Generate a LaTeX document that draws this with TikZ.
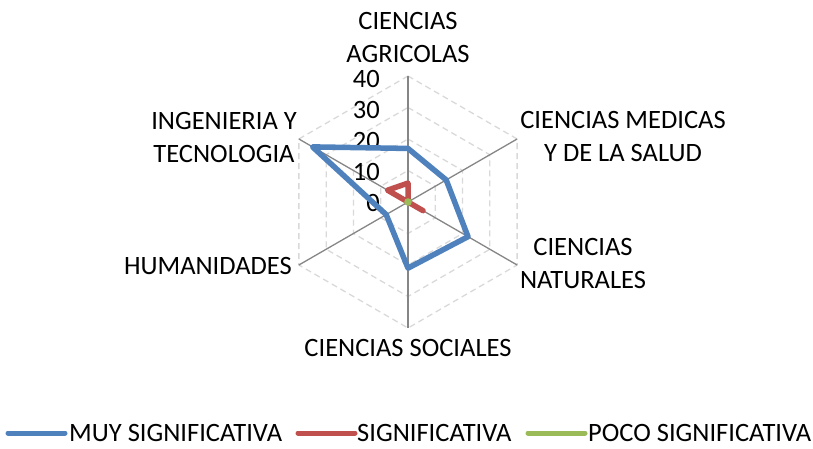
\documentclass[tikz,border=0pt]{standalone}
\usepackage{fontspec}
\setmainfont{Carlito}
\definecolor{serA}{HTML}{4F81BD}
\definecolor{serB}{HTML}{C0504D}
\definecolor{serC}{HTML}{9BBB59}
\definecolor{axisgray}{HTML}{868686}
\definecolor{gridgray}{HTML}{D9D9D9}
\begin{document}
\begin{tikzpicture}[x=1pt,y=1pt,
  lbl/.style={font=\fontsize{26.5}{33}\selectfont, inner sep=0pt, align=center},
  num/.style={font=\fontsize{26.5}{33}\selectfont, inner sep=0pt, anchor=east},
  gridline/.style={draw=gridgray, line width=1.3pt, dash pattern=on 6pt off 4pt},
  axisline/.style={draw=axisgray, line width=1.3pt},
  serline/.style={line width=5.5pt, line join=round, line cap=round}]
\useasboundingbox (0,0) rectangle (813,448);
\begin{scope}[shift={(408,246)}]
  % grid hexagons
  \foreach \r in {1,2,3,4}{
    \draw[gridline] (90:\r*31.5) -- (30:\r*31.5) -- (-30:\r*31.5) -- (-90:\r*31.5) -- (210:\r*31.5) -- (150:\r*31.5) -- cycle;
  }
  % axes
  \foreach \a in {90,30,-30,-90,210,150}{
    \draw[axisline] (0,0) -- (\a:126);
  }
  % value labels
  \node[num] (n0)  at (-28,-1)  {0};
  \node[num] (n10) at (-28,30)  {10};
  \node[num] (n20) at (-28,61)  {20};
  \node[num] (n30) at (-28,92)  {30};
  \node[num] (n40) at (-28,123) {40};
  % series
  \draw[serline, serA] (90:17*3.15) -- (30:14*3.15) -- (-30:22*3.15) -- (-90:21*3.15) -- (210:8*3.15) -- (150:35*3.15) -- cycle;
  \draw[serline, serB] (90:6*3.15) -- (0,0) -- (-30:5.5*3.15) -- (0,0) -- (150:7.5*3.15) -- cycle;
  \fill[serC] (0,0) circle (3.8);
\end{scope}
% category labels
\node[lbl] (agr) at (408,411) {CIENCIAS\\AGRICOLAS};
\node[lbl] (med) at (623,312) {CIENCIAS MEDICAS\\Y DE LA SALUD};
\node[lbl] (nat) at (583,185) {CIENCIAS\\NATURALES};
\node[lbl] (soc) at (408,100) {CIENCIAS SOCIALES};
\node[lbl, anchor=east] (hum) at (292,182) {HUMANIDADES};
\node[lbl] (ing) at (224,311) {INGENIERIA Y\\TECNOLOGIA};
% legend
\coordinate (la1) at (8,15);  \coordinate (la2) at (65,15);
\coordinate (lb1) at (298,15); \coordinate (lb2) at (355,15);
\coordinate (lc1) at (528,15); \coordinate (lc2) at (585,15);
\draw[serA, line width=5pt, line cap=round] (la1) -- (la2);
\draw[serB, line width=5pt, line cap=round] (lb1) -- (lb2);
\draw[serC, line width=5pt, line cap=round] (lc1) -- (lc2);
\node[lbl, anchor=west] (lega) at (69,15) {MUY SIGNIFICATIVA};
\node[lbl, anchor=west] (legb) at (357,15) {SIGNIFICATIVA};
\node[lbl, anchor=west] (legc) at (588,15) {POCO SIGNIFICATIVA};
\end{tikzpicture}
\end{document}
